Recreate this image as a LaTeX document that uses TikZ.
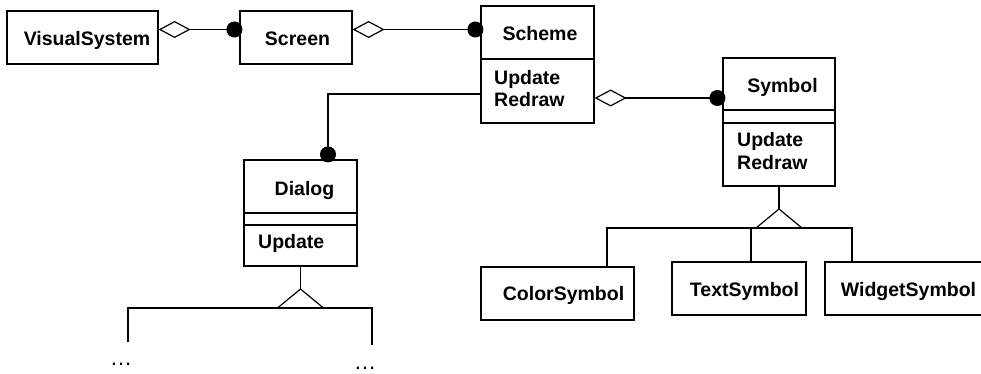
\documentclass[tikz,border=0pt]{standalone}
\usepackage{fontspec}
\setmainfont{Liberation Sans}
\usetikzlibrary{arrows.meta}
\begin{document}
\begin{tikzpicture}[x=1pt,y=-1pt,
  lw/.style={line width=1.2pt},
  cls/.style={draw,lw,inner sep=0pt},
  lbl/.style={font=\fontsize{19.5}{22}\selectfont\bfseries,inner sep=0pt,anchor=base},
  lbll/.style={lbl,anchor=base west},
  ell/.style={font=\fontsize{22.5}{24}\selectfont,inner sep=0pt,anchor=base},
  agg/.style={lw,{Diamond[open,length=32pt,width=17pt]}-{Circle[length=16pt]},shorten >=-3pt},
  assoc/.style={lw,-{Circle[length=16pt]},shorten >=-3pt}
]
\useasboundingbox (0,0) rectangle (981,374);

% class boxes
\node[cls,minimum width=151pt,minimum height=53pt] (vs) at (82.5,37.5) {};
\node[cls,minimum width=112pt,minimum height=53pt] (screen) at (296,37.5) {};
\node[cls,minimum width=113pt,minimum height=117pt] (scheme) at (537.5,64.5) {};
\node[cls,minimum width=113pt,minimum height=106pt] (dialog) at (300.5,213) {};
\node[cls,minimum width=112pt,minimum height=128pt] (symbol) at (779,122) {};
\node[cls,minimum width=153pt,minimum height=53pt] (colorsym) at (557.5,293.5) {};
\node[cls,minimum width=134pt,minimum height=53pt] (textsym) at (739,288.5) {};
\node[cls,minimum width=165pt,minimum height=53pt] (widgetsym) at (907.5,288.5) {};

% compartment dividers
\draw[lw] (scheme.west |- 0,59) -- (scheme.east |- 0,59);
\draw[lw] (dialog.west |- 0,213) -- (dialog.east |- 0,213);
\draw[lw] (dialog.west |- 0,225) -- (dialog.east |- 0,225);
\draw[lw] (symbol.west |- 0,110) -- (symbol.east |- 0,110);
\draw[lw] (symbol.west |- 0,123) -- (symbol.east |- 0,123);

% labels
\node[lbl] (vsname) at (87,46) {VisualSystem};
\node[lbl] (screenname) at (297.5,46) {Screen};
\node[lbl] (schemename) at (540,41) {Scheme};
\node[lbll] (schemeop1) at (494,85) {Update};
\node[lbll] (schemeop2) at (494,107) {Redraw};
\node[lbl] (dialogname) at (304.5,195) {Dialog};
\node[lbll] (dialogop1) at (258,248) {Update};
\node[lbl] (symbolname) at (782.5,93) {Symbol};
\node[lbll] (symbolop1) at (737,147) {Update};
\node[lbll] (symbolop2) at (737,169) {Redraw};
\node[lbl] (colorname) at (563.5,300) {ColorSymbol};
\node[lbl] (textname) at (744.5,296) {TextSymbol};
\node[lbl] (widgetname) at (908.5,296) {WidgetSymbol};

% aggregations
\draw[agg] (vs.east |- 0,29.5) -- (screen.west |- 0,29.5);
\draw[agg] (screen.east |- 0,29.5) -- (scheme.west |- 0,29.5);
\draw[agg] (scheme.east |- 0,98) -- (symbol.west |- 0,98);
\draw[assoc] (scheme.west |- 0,94) -| ([xshift=27.5pt]dialog.north);

% Symbol inheritance
\coordinate (symapex) at (779,209);
\draw[lw] (symbol.south) -- (symapex);
\draw[lw,line join=miter] (symapex) -- (756,228) -- (802,228) -- cycle;
\draw[lw] (colorsym.north -| 607,0) -- (607,228) -- (852,228) -- (widgetsym.north -| 852,0);
\draw[lw] (751,228) -- (textsym.north -| 751,0);

% Dialog inheritance
\coordinate (dlgapex) at (300.5,289);
\coordinate (dl) at (128,342);
\coordinate (dr) at (372,345);
\draw[lw] (dialog.south) -- (dlgapex);
\draw[lw,line join=miter] (dlgapex) -- (277.5,308) -- (323.5,308) -- cycle;
\draw[lw] (dl) -- (128,308) -- (372,308) -- (dr);
\node[ell] (dotsl) at (121,365) {…};
\node[ell] (dotsr) at (365,369) {…};
\end{tikzpicture}
\end{document}
